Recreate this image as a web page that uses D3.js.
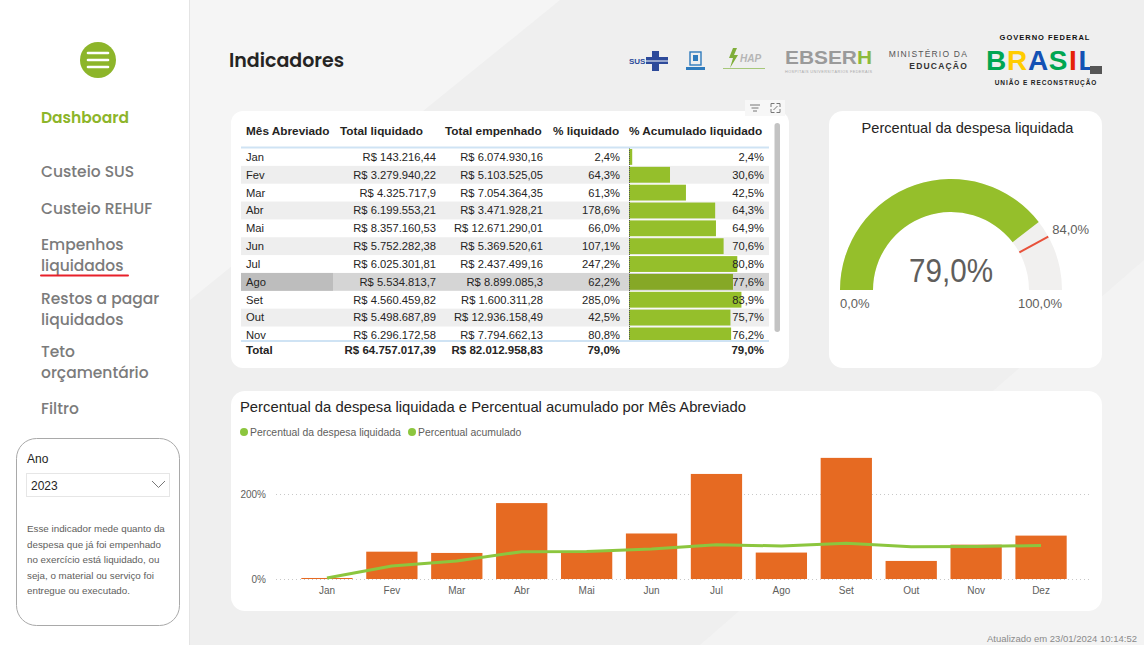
<!DOCTYPE html>
<html>
<head>
<meta charset="utf-8">
<script src="https://cdn.jsdelivr.net/npm/d3@7"></script>
<style>
  html, body { margin: 0; padding: 0; background: #f0f0f0; }
  svg { display: block; }
  text { font-family: "Segoe UI", "Liberation Sans", Arial, sans-serif; }
  .poppins { font-family: "Poppins", "Open Sans", sans-serif; }
</style>
</head>
<body>
<div id="page"></div>
<script>
// dados
const meses = ['Jan', 'Fev', 'Mar', 'Abr', 'Mai', 'Jun', 'Jul', 'Ago', 'Set', 'Out', 'Nov', 'Dez'];
const totalLiquidado = [143216.44, 3279940.22, 4325717.9, 6199553.21, 8357160.53, 5752282.38,
    6025301.81, 5534813.7, 4560459.82, 5498687.89, 6296172.58, 8783710.91];
const totalEmpenhado = [6074930.16, 5103525.05, 7054364.35, 3471928.21, 12671290.01, 5369520.61,
    2437499.16, 8899085.3, 1600311.28, 12936158.49, 7794662.13, 8599684.08];
const pctLiquidado = [2.4, 64.3, 61.3, 178.6, 66.0, 107.1, 247.2, 62.2, 285.0, 42.5, 80.8, 102.1];
const pctAcumulado = [2.4, 30.6, 42.5, 64.3, 64.9, 70.6, 80.8, 77.6, 83.9, 75.7, 76.2, 79.0];
const totalGeral = [64757017.39, 82012958.83, 79.0, 79.0];
const mesSelecionado = 'Ago';

const gaugeValor = 79.0;
const gaugeMeta = 84.0;
const gaugeMin = 0;
const gaugeMax = 100;

const yTicks = [0, 200];
const colunas = ['Mês Abreviado', 'Total liquidado', 'Total empenhado', '% liquidado', '% Acumulado liquidado'];
const legendaItens = ['Percentual da despesa liquidada', 'Percentual acumulado'];
const menuItens = [['Dashboard'], ['Custeio SUS'], ['Custeio REHUF'], ['Empenhos', 'liquidados'],
    ['Restos a pagar', 'liquidados'], ['Teto', 'orçamentário'], ['Filtro']];
const anoSelecionado = '2023';
const descricao = ['Esse indicador mede quanto da', 'despesa que já foi empenhado',
    'no exercício está liquidado, ou', 'seja, o material ou serviço foi', 'entregue ou executado.'];
const atualizado = 'Atualizado em 23/01/2024 10:14:52';

// cores
const VERDE = '#95bf2b';
const VERDE_LINHA = '#8cc63e';
const LARANJA = '#e66a22';
const CINZA_TXT = '#605e5c';
const ESCURO = '#252423';

const W = 1144, H = 645;
const br = d3.formatLocale({ decimal: ',', thousands: '.', grouping: [3], currency: ['R$ ', ''] });
const fmtMoeda = br.format('$,.2~f');
const fmtPct = v => br.format(',.1f')(v) + '%';

const svg = d3.select('#page').append('svg').attr('width', W).attr('height', H);

// fundo
svg.append('rect').attr('width', W).attr('height', H).attr('fill', '#efefef');
svg.append('path').attr('d', 'M190,0 L560,0 L190,300 Z').attr('fill', '#f5f5f5');
svg.append('path').attr('d', 'M700,645 L1144,260 L1144,645 Z').attr('fill', '#f3f3f3');

drawSidebar();
drawHeader();
drawTable();
drawGauge();
drawChart();

svg.append('text').attr('x', 1137).attr('y', 639).attr('dy', '0.35em')
    .attr('text-anchor', 'end').attr('font-size', 9.5).attr('fill', '#8a8a8a').text(atualizado);

function drawSidebar() {
    const g = svg.append('g');
    g.append('rect').attr('width', 189).attr('height', H).attr('fill', '#fff');
    g.append('line').attr('x1', 189.5).attr('x2', 189.5).attr('y1', 0).attr('y2', H)
        .attr('stroke', '#e4e4e4');

    // botão de menu
    g.append('circle').attr('cx', 98).attr('cy', 60).attr('r', 18).attr('fill', '#8db52a');
    [-7, 0, 7].forEach(dy => {
        g.append('line').attr('x1', 88).attr('x2', 108).attr('y1', 60 + dy).attr('y2', 60 + dy)
            .attr('stroke', '#fff').attr('stroke-width', 2.6).attr('stroke-linecap', 'round');
    });

    const menuY = [118, 172, 209, 245, 299, 352, 409];
    menuItens.forEach((linhas, i) => {
        linhas.forEach((t, j) => {
            g.append('text').attr('class', 'poppins')
                .attr('x', 41).attr('y', menuY[i] + j * 21).attr('dy', '0.35em')
                .attr('font-size', 15.5)
                .attr('font-weight', i === 0 ? 600 : 500)
                .attr('fill', i === 0 ? '#8db52a' : '#7b7b7b')
                .text(t);
        });
    });
    // sublinhado da página atual
    g.append('line').attr('x1', 41).attr('x2', 128).attr('y1', 275.5).attr('y2', 275.5)
        .attr('stroke', '#e8202a').attr('stroke-width', 2).attr('stroke-linecap', 'round');

    // caixa do filtro
    g.append('rect').attr('x', 16.5).attr('y', 438.5).attr('width', 163).attr('height', 187)
        .attr('rx', 20).attr('fill', '#fff').attr('stroke', '#a9a9a9');
    g.append('text').attr('x', 27).attr('y', 459).attr('dy', '0.35em')
        .attr('font-size', 12).attr('fill', ESCURO).text('Ano');
    g.append('rect').attr('x', 26.5).attr('y', 473.5).attr('width', 143).attr('height', 23)
        .attr('fill', '#fff').attr('stroke', '#e6e6e6');
    g.append('text').attr('x', 31).attr('y', 486).attr('dy', '0.35em')
        .attr('font-size', 12).attr('fill', ESCURO).text(anoSelecionado);
    g.append('path').attr('d', 'M152,481 L158.5,487.5 L165,481').attr('fill', 'none')
        .attr('stroke', '#777').attr('stroke-width', 1);
    descricao.forEach((t, i) => {
        g.append('text').attr('x', 27).attr('y', 529 + i * 15.5).attr('dy', '0.35em')
            .attr('font-size', 9.8).attr('fill', CINZA_TXT).text(t);
    });
}

function drawHeader() {
    const g = svg.append('g');
    g.append('text').attr('class', 'poppins').attr('x', 229).attr('y', 60).attr('dy', '0.35em')
        .attr('font-size', 19).attr('font-weight', 600).attr('fill', ESCURO).text('Indicadores');

    // SUS
    g.append('text').attr('x', 629).attr('y', 61).attr('dy', '0.35em').attr('font-size', 8)
        .attr('font-weight', 700).attr('fill', '#2d4a9a').text('SUS');
    g.append('path')
        .attr('d', 'M652,51 h7 v6 h9 v7 h-9 v7 h-7 v-7 h-6 v-7 h6 Z')
        .attr('fill', '#2d4a9a');
    g.append('path').attr('d', 'M646,61 h22').attr('stroke', '#fff').attr('stroke-width', 1);

    // hospital
    g.append('rect').attr('x', 690).attr('y', 52).attr('width', 11).attr('height', 13)
        .attr('fill', 'none').attr('stroke', '#2f7bbd').attr('stroke-width', 1.4);
    g.append('rect').attr('x', 693).attr('y', 55).attr('width', 5).attr('height', 6).attr('fill', '#2f7bbd');
    g.append('rect').attr('x', 686).attr('y', 67).attr('width', 19).attr('height', 3).attr('fill', '#2f7bbd');

    // HUAP
    g.append('path').attr('d', 'M733,48 l-4,10 h4 l-3,10 l8,-13 h-4 l3,-7 Z').attr('fill', '#7fae3a');
    g.append('text').attr('x', 740).attr('y', 58).attr('dy', '0.35em').attr('font-size', 10)
        .attr('font-style', 'italic').attr('font-weight', 700).attr('fill', '#b5b5b5').text('HAP');
    g.append('line').attr('x1', 723).attr('x2', 765).attr('y1', 68.5).attr('y2', 68.5)
        .attr('stroke', '#a6c77a').attr('stroke-width', 1);

    // EBSERH
    g.append('text').attr('x', 785).attr('y', 58).attr('dy', '0.35em').attr('font-size', 18)
        .attr('font-weight', 700).attr('fill', '#9a9a9a').attr('textLength', 87)
        .attr('lengthAdjust', 'spacingAndGlyphs')
        .html('EBSER<tspan fill="#8cba3c">H</tspan>');
    g.append('text').attr('x', 785).attr('y', 73).attr('font-size', 3.8).attr('fill', '#aaa')
        .attr('textLength', 87).text('HOSPITAIS UNIVERSITÁRIOS FEDERAIS');

    // MEC
    g.append('text').attr('x', 968).attr('y', 54).attr('dy', '0.35em').attr('text-anchor', 'end')
        .attr('font-size', 8.5).attr('letter-spacing', 1.2).attr('fill', '#555').text('MINISTÉRIO DA');
    g.append('text').attr('x', 968).attr('y', 66).attr('dy', '0.35em').attr('text-anchor', 'end')
        .attr('font-size', 8.5).attr('font-weight', 700).attr('letter-spacing', 1.2)
        .attr('fill', '#333').text('EDUCAÇÃO');

    // Governo Federal
    g.append('text').attr('x', 1045).attr('y', 37).attr('dy', '0.35em').attr('text-anchor', 'middle')
        .attr('font-size', 7.5).attr('font-weight', 700).attr('letter-spacing', 1)
        .attr('fill', '#111').text('GOVERNO FEDERAL');
    const letras = ['B', 'R', 'A', 'S', 'I', 'L'];
    const corLetra = ['#00a651', '#ffcc00', '#1351b4', '#00a651', '#e52207', '#1351b4'];
    const letraX = [996, 1017, 1038, 1058, 1073, 1087];
    letras.forEach((l, i) => {
        g.append('text').attr('x', letraX[i]).attr('y', 60).attr('dy', '0.35em')
            .attr('text-anchor', 'middle')
            .attr('font-size', 28).attr('font-weight', 900).attr('fill', corLetra[i])
            .attr('font-family', '"Liberation Sans", Arial, sans-serif').text(l);
    });
    g.append('rect').attr('x', 1090).attr('y', 66).attr('width', 12).attr('height', 8).attr('fill', '#555');
    g.append('text').attr('x', 1046).attr('y', 83).attr('dy', '0.35em').attr('text-anchor', 'middle')
        .attr('font-size', 6.5).attr('font-weight', 700).attr('letter-spacing', 0.9)
        .attr('fill', '#222').text('UNIÃO E RECONSTRUÇÃO');
}

function drawTable() {
    const g = svg.append('g');
    g.append('rect').attr('x', 231).attr('y', 111).attr('width', 558).attr('height', 257)
        .attr('rx', 12).attr('fill', '#fff');

    // ícones
    g.append('rect').attr('x', 745).attr('y', 100).attr('width', 40).attr('height', 16)
        .attr('fill', '#f7f7f7');
    [[750, 10], [751.5, 7], [753, 4]].forEach(([x, w], i) => {
        g.append('line').attr('x1', x).attr('x2', x + w).attr('y1', 105 + i * 3).attr('y2', 105 + i * 3)
            .attr('stroke', '#777').attr('stroke-width', 1);
    });
    g.append('path').attr('d', 'M771,107 v-3.5 h3.5 M776.5,103.5 h3.5 v3.5 M780,109 v3.5 h-3.5 M774.5,112.5 h-3.5 v-3.5')
        .attr('fill', 'none').attr('stroke', '#777').attr('stroke-width', 1);
    g.append('path').attr('d', 'M773.5,110 l4,-4').attr('stroke', '#777').attr('stroke-width', 1);

    const colX = [246, 340, 445, 553, 629];
    const colRight = [null, 436, 543, 620, 764];
    const rowTop = 148, rowH = 17.85, bodyBottom = 341;

    g.selectAll('.hdr').data(colunas).enter().append('text')
        .attr('x', (d, i) => colX[i]).attr('y', 131).attr('dy', '0.35em')
        .attr('font-size', 11.8).attr('font-weight', 700).attr('fill', ESCURO).text(d => d);

    g.append('clipPath').attr('id', 'clipBody').append('rect')
        .attr('x', 235).attr('y', rowTop).attr('width', 540).attr('height', bodyBottom - rowTop);
    const body = g.append('g').attr('clip-path', 'url(#clipBody)');

    const barScale = d3.scaleLinear().domain([0, 100]).range([0, 134]);
    // só as linhas que aparecem antes da rolagem
    const rows = meses.map((m, i) => ({ m, i })).filter(d => rowTop + d.i * rowH < bodyBottom);

    const row = body.selectAll('.row').data(rows).enter().append('g')
        .attr('class', 'row')
        .attr('transform', d => `translate(0,${rowTop + d.i * rowH})`);

    row.filter(d => d.i % 2 === 1 || d.m === mesSelecionado).append('rect')
        .attr('x', 241).attr('width', 528).attr('height', rowH)
        .attr('fill', d => d.m === mesSelecionado ? '#d5d5d5' : '#eeeeee');
    row.filter(d => d.m === mesSelecionado).append('rect')
        .attr('x', 241).attr('width', 92).attr('height', rowH).attr('fill', '#bdbdbd');

    row.append('rect')
        .attr('x', 629).attr('y', 1).attr('height', rowH - 2)
        .attr('width', d => barScale(pctAcumulado[d.i]))
        .attr('fill', d => d.m === mesSelecionado ? '#86a826' : VERDE);

    const cell = (sel, x, anchor, fn) => sel.append('text')
        .attr('x', x).attr('y', rowH / 2).attr('dy', '0.35em')
        .attr('text-anchor', anchor).attr('font-size', 11.2).attr('fill', ESCURO).text(fn);

    cell(row, 246, 'start', d => d.m);
    cell(row, colRight[1], 'end', d => fmtMoeda(totalLiquidado[d.i]));
    cell(row, colRight[2], 'end', d => fmtMoeda(totalEmpenhado[d.i]));
    cell(row, colRight[3], 'end', d => fmtPct(pctLiquidado[d.i]));
    cell(row, colRight[4], 'end', d => fmtPct(pctAcumulado[d.i]));

    g.append('line').attr('x1', 629.5).attr('x2', 629.5).attr('y1', rowTop).attr('y2', bodyBottom)
        .attr('stroke', '#555').attr('stroke-dasharray', '1,1');

    g.append('line').attr('x1', 241).attr('x2', 769).attr('y1', rowTop - 0.5).attr('y2', rowTop - 0.5)
        .attr('stroke', '#cfe3f4').attr('stroke-width', 2);
    g.append('line').attr('x1', 241).attr('x2', 769).attr('y1', bodyBottom).attr('y2', bodyBottom)
        .attr('stroke', '#cfe3f4').attr('stroke-width', 2);

    // linha de total
    const totalTxt = ['Total', fmtMoeda(totalGeral[0]), fmtMoeda(totalGeral[1]), fmtPct(totalGeral[2]), fmtPct(totalGeral[3])];
    totalTxt.forEach((t, i) => {
        g.append('text').attr('x', i === 0 ? 246 : colRight[i]).attr('y', 349.5).attr('dy', '0.35em')
            .attr('text-anchor', i === 0 ? 'start' : 'end')
            .attr('font-size', 11.5).attr('font-weight', 700).attr('fill', ESCURO).text(t);
    });

    // barra de rolagem
    g.append('rect').attr('x', 774.5).attr('y', 123).attr('width', 5.5).attr('height', 209)
        .attr('rx', 2.75).attr('fill', '#c3c3c3');
}

function drawGauge() {
    const g = svg.append('g');
    g.append('rect').attr('x', 829).attr('y', 111).attr('width', 273).attr('height', 257)
        .attr('rx', 14).attr('fill', '#fff');
    g.append('text').attr('x', 967.5).attr('y', 128).attr('dy', '0.35em').attr('text-anchor', 'middle')
        .attr('font-size', 14.6).attr('fill', ESCURO).text('Percentual da despesa liquidada');

    const cx = 951, cy = 290, r0 = 78, r1 = 111;
    const ang = d3.scaleLinear().domain([gaugeMin, gaugeMax]).range([-Math.PI / 2, Math.PI / 2]);
    const arc = d3.arc().innerRadius(r0).outerRadius(r1);
    const gg = g.append('g').attr('transform', `translate(${cx},${cy})`);

    gg.append('path').attr('d', arc({ startAngle: ang(gaugeMin), endAngle: ang(gaugeMax) }))
        .attr('fill', '#f1f0ef');
    gg.append('path').attr('d', arc({ startAngle: ang(gaugeMin), endAngle: ang(gaugeValor) }))
        .attr('fill', VERDE);

    const a = ang(gaugeMeta);
    gg.append('line')
        .attr('x1', Math.sin(a) * r0).attr('y1', -Math.cos(a) * r0)
        .attr('x2', Math.sin(a) * r1).attr('y2', -Math.cos(a) * r1)
        .attr('stroke', '#e8513a').attr('stroke-width', 2);

    gg.append('text').attr('x', 0).attr('y', -8).attr('text-anchor', 'middle')
        .attr('font-size', 34).attr('font-weight', 300).attr('fill', CINZA_TXT)
        .attr('font-family', 'Roboto, "Liberation Sans", sans-serif')
        .attr('textLength', 84).attr('lengthAdjust', 'spacingAndGlyphs')
        .text(fmtPct(gaugeValor));
    g.append('text').attr('x', 840).attr('y', 303.5).attr('dy', '0.35em')
        .attr('font-size', 13).attr('fill', CINZA_TXT).text(fmtPct(gaugeMin));
    g.append('text').attr('x', 1062).attr('y', 303.5).attr('dy', '0.35em').attr('text-anchor', 'end')
        .attr('font-size', 13).attr('fill', CINZA_TXT).text(fmtPct(gaugeMax));
    g.append('text').attr('x', cx + Math.sin(a) * r1 + 4).attr('y', 229).attr('dy', '0.35em')
        .attr('font-size', 13).attr('fill', CINZA_TXT).text(fmtPct(gaugeMeta));
}

function drawChart() {
    const g = svg.append('g');
    g.append('rect').attr('x', 231).attr('y', 391).attr('width', 871).attr('height', 220)
        .attr('rx', 14).attr('fill', '#fff');
    g.append('text').attr('x', 240).attr('y', 407).attr('dy', '0.35em')
        .attr('font-size', 14.8).attr('fill', ESCURO)
        .text('Percentual da despesa liquidada e Percentual acumulado por Mês Abreviado');

    // legenda
    const legX = [244, 412];
    legendaItens.forEach((t, i) => {
        g.append('circle').attr('cx', legX[i]).attr('cy', 432).attr('r', 4).attr('fill', VERDE_LINHA);
        g.append('text').attr('x', legX[i] + 6).attr('y', 432).attr('dy', '0.35em')
            .attr('font-size', 10.4).attr('fill', CINZA_TXT).text(t);
    });

    const x = d3.scaleBand().domain(meses).range([294.5, 1073.5])
        .paddingInner(0.21).paddingOuter(0.105);
    const y = d3.scaleLinear().domain([0, 300]).range([579, 451.5]);

    // grade
    g.selectAll('.grid').data(yTicks).enter().append('line')
        .attr('x1', 276).attr('x2', 1089)
        .attr('y1', d => y(d) + 0.5).attr('y2', d => y(d) + 0.5)
        .attr('stroke', '#c8c8c8').attr('stroke-dasharray', '1,3');

    const yAxis = g.append('g').attr('transform', 'translate(266,0)')
        .call(d3.axisLeft(y).tickValues(yTicks).tickSize(0).tickPadding(0).tickFormat(d => d + '%'));
    yAxis.select('.domain').remove();
    yAxis.selectAll('text').attr('font-size', 10).attr('fill', CINZA_TXT)
        .attr('font-family', '"Segoe UI", "Liberation Sans", Arial, sans-serif');

    const xAxis = g.append('g').attr('transform', 'translate(0,586.5)')
        .call(d3.axisBottom(x).tickSize(0).tickPadding(0));
    xAxis.select('.domain').remove();
    xAxis.selectAll('text').attr('font-size', 10).attr('fill', CINZA_TXT)
        .attr('font-family', '"Segoe UI", "Liberation Sans", Arial, sans-serif');

    g.selectAll('.bar').data(meses).enter().append('rect')
        .attr('x', d => x(d)).attr('width', x.bandwidth())
        .attr('y', (d, i) => y(pctLiquidado[i]))
        .attr('height', (d, i) => y(0) - y(pctLiquidado[i]))
        .attr('fill', LARANJA);

    const line = d3.line()
        .x((d, i) => x(meses[i]) + x.bandwidth() / 2)
        .y(d => y(d));
    g.append('path').datum(pctAcumulado).attr('d', line)
        .attr('fill', 'none').attr('stroke', VERDE_LINHA).attr('stroke-width', 3)
        .attr('stroke-linejoin', 'round');
}
</script>
</body>
</html>
